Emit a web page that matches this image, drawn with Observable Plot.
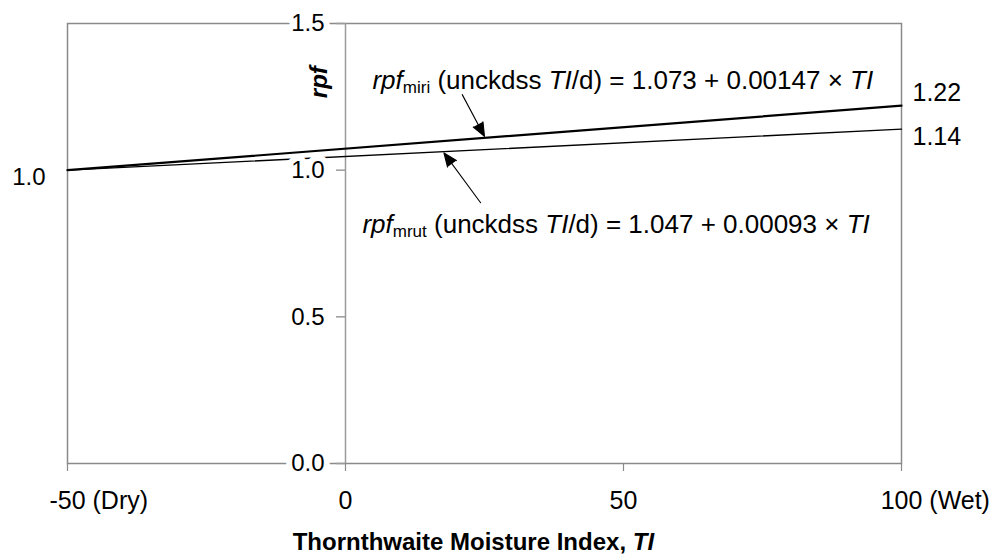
<!DOCTYPE html>
<html>
<head>
<meta charset="utf-8">
<script src="https://cdn.jsdelivr.net/npm/d3@7"></script>
<script src="https://cdn.jsdelivr.net/npm/@observablehq/plot@0.6"></script>
<style>
  html, body { margin: 0; padding: 0; background: #fff; }
  #chart svg { display: block; }
</style>
</head>
<body>
<div id="chart"></div>
<script>
// Thornthwaite moisture index at the two ends of the fitted lines
const tiEnds = [-50, 100];
// rpf of each fit at those two ends
const rpfMiri = [1.0, 1.22];
const rpfMrut = [1.0, 1.14];
// fit coefficients: intercept and slope
const miriCoef = [1.073, 0.00147];
const mrutCoef = [1.047, 0.00093];

// axis ticks
const xTicks = [-50, 0, 50, 100];
const xTickNotes = ["(Dry)", "", "", "(Wet)"];
const yTicks = [0, 0.5, 1.0, 1.5];

// callout arrows (tail -> head) in data units
const arrowTail = [[21.0, 1.2575], [24.3, 0.889]];
const arrowHead = [[25.0, 1.115], [17.7, 1.059]];

// anchors (start of baseline) for the two equation labels
const eqAnchorMiri = {x: 4.85, y: 1.277};
const eqAnchorMrut = {x: 3.05, y: 0.7867};

const FONT = "'Liberation Sans', Arial, Helvetica, sans-serif";
const ctx = document.createElement("canvas").getContext("2d");
function textWidth(str, size, {weight = "normal", style = "normal"} = {}) {
  ctx.font = `${style} ${weight} ${size}px ${FONT}`;
  return ctx.measureText(str).width;
}

// Lay out a run of differently styled pieces left to right from one anchor
function richText(anchor, pieces, {size = 25, weight = "normal", align = "start", dy = 0, dx = 0} = {}) {
  const fontOf = p => ({size: p.size ?? size, weight: p.weight ?? weight, style: p.style ?? "normal"});
  const widths = pieces.map(p => textWidth(p.text, fontOf(p).size, fontOf(p)));
  const total = d3.sum(widths);
  let offset = dx + (align === "middle" ? -total / 2 : 0);
  return pieces.map((p, i) => {
    const f = fontOf(p);
    const lead = p.text.match(/^\s*/)[0];
    const body = p.text.trim();
    const mark = Plot.text([anchor], {
      x: "x", y: "y", text: () => body,
      textAnchor: "start", lineAnchor: "bottom",
      dx: offset + textWidth(lead, f.size, f),
      dy: dy + (p.shift ?? 0),
      fontSize: f.size, fontWeight: f.weight, fontStyle: f.style,
      fill: "black"
    });
    offset += widths[i];
    return mark;
  });
}

const miriRows = tiEnds.map((t, i) => ({ti: t, rpf: rpfMiri[i]}));
const mrutRows = tiEnds.map((t, i) => ({ti: t, rpf: rpfMrut[i]}));
const arrows = arrowTail.map((t, i) => ({x1: t[0], y1: t[1], x2: arrowHead[i][0], y2: arrowHead[i][1]}));

const eqMiri = [
  {text: "rpf", style: "italic"},
  {text: "miri", size: 17, shift: 4},
  {text: " (unckdss "},
  {text: "TI", style: "italic"},
  {text: `/d) = ${miriCoef[0]} + ${miriCoef[1]} × `},
  {text: "TI", style: "italic"}
];
const eqMrut = [
  {text: "rpf", style: "italic"},
  {text: "mrut", size: 17, shift: 4.5},
  {text: " (unckdss "},
  {text: "TI", style: "italic"},
  {text: `/d) = ${mrutCoef[0]} + ${mrutCoef[1]} × `},
  {text: "TI", style: "italic"}
];
const xTitle = [
  {text: "Thornthwaite Moisture Index, "},
  {text: "TI", style: "italic"}
];

const fmt1 = d3.format(".1f");
const fmt2 = d3.format(".2f");
const tickFmt = d => String(d);
const X_LABEL_SIZE = 25;
const EQ_SIZE = 26;

// "(Dry)" / "(Wet)" notes placed just after the centred tick number
const noteMarks = xTicks.map((t, i) => xTickNotes[i] ? Plot.text([t], {
  x: d => d, y: 0, text: () => xTickNotes[i],
  textAnchor: "start", dy: 37.5, fontSize: X_LABEL_SIZE, fill: "black",
  dx: textWidth(tickFmt(t), X_LABEL_SIZE) / 2 + textWidth(" ", X_LABEL_SIZE)
}) : null).filter(Boolean);

const chart = Plot.plot({
  width: 998,
  height: 556,
  marginLeft: 67,
  marginRight: 97,
  marginTop: 23,
  marginBottom: 93,
  style: {fontFamily: FONT, fontSize: "24px", color: "black", background: "white"},
  x: {domain: [-50, 100], axis: null},
  y: {domain: [0, 1.5], axis: null},
  marks: [
    Plot.frame({stroke: "#8a8a8a", strokeWidth: 1.5}),
    // vertical axis through TI = 0
    Plot.ruleX([0], {stroke: "#9a9a9a", strokeWidth: 1.5}),
    // tick marks
    Plot.ruleX(xTicks, {x: d => d, y1: 0, y2: 0, insetBottom: -8, stroke: "#8a8a8a", strokeWidth: 1.2}),
    Plot.ruleY(yTicks, {y: d => d, x1: 0, x2: 0, insetLeft: -9, stroke: "#9a9a9a", strokeWidth: 1.5}),
    // fitted lines
    Plot.line(mrutRows, {x: "ti", y: "rpf", stroke: "black", strokeWidth: 1.4}),
    Plot.line(miriRows, {x: "ti", y: "rpf", stroke: "black", strokeWidth: 2.2}),
    // callout arrows
    Plot.arrow(arrows, {x1: "x1", y1: "y1", x2: "x2", y2: "y2", stroke: "black", fill: "black",
      strokeWidth: 1.1, headLength: 20, headAngle: 44, strokeLinejoin: "miter"}),
    // y tick labels with a white knock-out behind them
    Plot.text(yTicks, {x: 0, y: d => d, text: d => fmt1(d), textAnchor: "end", dx: -21,
      fontSize: 24, fill: "black", stroke: "white", strokeWidth: 12, paintOrder: "stroke"}),
    // y axis title
    Plot.text([1.3], {x: 0, y: d => d, text: () => "rpf", rotate: -90, dx: -26,
      fontSize: 24, fontWeight: "bold", fontStyle: "italic", fill: "black"}),
    // x tick labels
    Plot.text(xTicks, {x: d => d, y: 0, text: tickFmt, dy: 37.5, fontSize: X_LABEL_SIZE, fill: "black"}),
    ...noteMarks,
    // end-point values
    Plot.text([rpfMiri[1]], {x: tiEnds[1], y: d => d, text: d => fmt2(d), textAnchor: "start",
      dx: 11, dy: -12.6, fontSize: 25, fill: "black"}),
    Plot.text([rpfMrut[1]], {x: tiEnds[1], y: d => d, text: d => fmt2(d), textAnchor: "start",
      dx: 11, dy: 7.7, fontSize: 25, fill: "black"}),
    Plot.text([rpfMiri[0]], {x: tiEnds[0], y: d => d, text: d => fmt1(d), textAnchor: "end",
      dx: -22, dy: 7.4, fontSize: 24, fill: "black"}),
    // equations
    ...richText(eqAnchorMiri, eqMiri, {size: EQ_SIZE}),
    ...richText(eqAnchorMrut, eqMrut, {size: EQ_SIZE}),
    // x axis title
    ...richText({x: 23, y: 0}, xTitle, {size: 24, weight: "bold", align: "middle", dy: 86})
  ]
});

document.getElementById("chart").appendChild(chart);
</script>
</body>
</html>
